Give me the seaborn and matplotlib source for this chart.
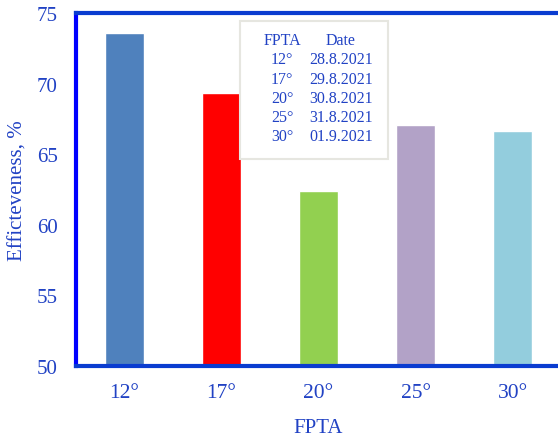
import numpy as np
import pandas as pd
import matplotlib
matplotlib.use('Agg')
import matplotlib.pyplot as plt
import seaborn as sns
from matplotlib.patches import Rectangle
from matplotlib.ticker import FixedLocator

# data
fpta = ['12°', '17°', '20°', '25°', '30°']
effectiveness = [73.6, 69.35, 62.4, 67.1, 66.65]
dates = ['28.8.2021', '29.8.2021', '30.8.2021', '31.8.2021', '01.9.2021']
bar_colors = ['#4F81BD', '#FF0000', '#92D050', '#B2A2C7', '#93CDDD']

sns.set_style('white')
plt.rcParams['font.family'] = ['Liberation Serif', 'DejaVu Serif']

txt = '#2142C4'

df = pd.DataFrame({'FPTA': fpta, 'Eff': effectiveness})

fig = plt.figure(figsize=(5.58, 4.39), dpi=100)
ax = fig.add_axes([76 / 558, 72 / 439, 485 / 558, 353 / 439])

sns.barplot(data=df, x='FPTA', y='Eff', hue='FPTA', palette=bar_colors,
            width=0.41, legend=False, ax=ax, saturation=1)

ax.set_ylim(50, 75)
ax.set_xlim(-0.5, 4.5)
ax.set_yticks([50, 55, 60, 65, 70, 75])
ax.xaxis.set_minor_locator(FixedLocator([0.5, 1.5, 2.5, 3.5]))

ax.set_xlabel('FPTA', fontsize=15, color=txt)
ax.xaxis.set_label_coords(0.5, -0.148)
ax.set_ylabel('Efficteveness, %', fontsize=15, color=txt)
ax.yaxis.set_label_coords(-0.1, 0.5)

ax.tick_params(axis='y', direction='in', length=5, width=2.5, color='#0000FF',
               labelsize=15, labelcolor=txt, pad=13)
ax.tick_params(axis='x', which='major', direction='in', length=3, width=2.5,
               color='#0A3CD0', labelsize=15.5, labelcolor=txt, pad=12)
ax.tick_params(axis='x', which='minor', direction='in', length=5, width=2.5,
               color='#0A3CD0')

for side in ['top', 'bottom']:
    ax.spines[side].set_color('#0A3CD0')
    ax.spines[side].set_linewidth(3)
ax.spines['left'].set_color('#0000FF')
ax.spines['left'].set_linewidth(3)
ax.spines['right'].set_visible(False)

# date table
fig.patches.append(Rectangle((240 / 558, 1 - 160 / 439), 148 / 558, 138 / 439,
                             transform=fig.transFigure, facecolor='white',
                             edgecolor='#E6E6E0', linewidth=1.5, zorder=5))
fig.text(282 / 558, 1 - 41 / 439, 'FPTA', ha='center', va='center',
         fontsize=11.5, color=txt, zorder=6)
fig.text(341 / 558, 1 - 41 / 439, 'Date', ha='center', va='center',
         fontsize=11.5, color=txt, zorder=6)
for i, (f, d) in enumerate(zip(fpta, dates)):
    y = 1 - (60.5 + i * 19.2) / 439
    fig.text(282 / 558, y, f, ha='center', va='center', fontsize=11.5,
             color=txt, zorder=6)
    fig.text(341 / 558, y, d, ha='center', va='center', fontsize=11.5,
             color=txt, zorder=6)

fig.savefig('out.png', dpi=100)
